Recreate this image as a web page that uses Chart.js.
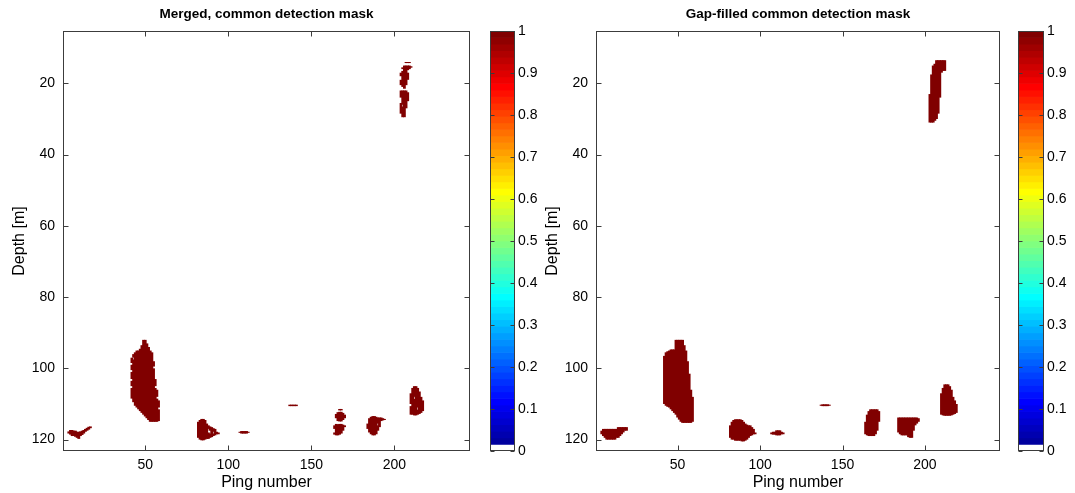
<!DOCTYPE html>
<html>
<head>
<meta charset="utf-8">
<script src="https://cdn.jsdelivr.net/npm/chart.js@4.4.1/dist/chart.umd.min.js"></script>
<style>
  html, body { margin: 0; padding: 0; background: #ffffff; }
  #figure { position: relative; width: 1075px; height: 493px; overflow: hidden; background: #ffffff; }
  #figure canvas { position: absolute; left: 0; top: 0; }
</style>
</head>
<body>
<div id="figure">
  <canvas id="maskMerged" width="1075" height="493"></canvas>
  <canvas id="cbarMerged" width="1075" height="493"></canvas>
  <canvas id="maskFilled" width="1075" height="493"></canvas>
  <canvas id="cbarFilled" width="1075" height="493"></canvas>
</div>
<script>
// ---- Axis ticks ----
const pingTicks = [50, 100, 150, 200];
const depthTicks = [20, 40, 60, 80, 100, 120];
const colorTicks = [0, 0.1, 0.2, 0.3, 0.4, 0.5, 0.6, 0.7, 0.8, 0.9, 1];
const pingRange = [0.5, 245.5];
const depthRange = [5.3, 123.2];

// ---- Merged, common detection mask: detected runs [ping, top depth, bottom depth] ----
const mergedShoalA = [
  [4, 117.7, 118.3], [5, 117.3, 118.6], [6, 117.3, 119], [7, 117.5, 119], [8, 117.5, 119.2],
  [9, 117.8, 119.5], [10, 117.8, 119.8], [11, 117.7, 119], [12, 117.5, 118.7], [13, 117.3, 118.3],
  [14, 117, 117.8], [15, 116.7, 117.5], [16, 116.4, 117.2], [17, 116.3, 116.8]
];
const mergedShoalB = [
  [42, 97, 98.5], [42, 99, 100.5], [42, 101, 103], [42, 103.5, 105], [42, 105.5, 108.5],
  [43, 96, 97], [43, 97.5, 109.5], [44, 95.5, 110.5], [45, 95, 111], [46, 95, 111.5],
  [47, 94.5, 112], [48, 93.5, 112.5], [49, 92, 113], [50, 92, 113.5], [51, 93, 114],
  [52, 94, 114.5], [53, 95, 115], [54, 95.5, 115], [55, 98, 99.5], [55, 100, 115],
  [56, 103, 105], [56, 105.5, 115], [57, 106, 108], [57, 108.5, 115], [58, 109, 111], [58, 111.5, 114.8]
];
const mergedShoalC = [
  [82, 115, 119.5], [83, 114.5, 120], [84, 114.2, 120.2], [85, 114.2, 120.2], [86, 114.5, 120],
  [87, 115.5, 119.8], [88, 116, 117], [88, 118, 119.8], [89, 116.3, 117.5], [89, 118.3, 119.5],
  [90, 116.5, 119.3], [91, 116.8, 117.8], [91, 118.3, 119], [92, 117, 118.8], [93, 117.8, 118.5], [94, 118, 118.5]
];
const mergedShoalD = [
  [107, 117.8, 118.1], [108, 117.6, 118.3], [109, 117.6, 118.3], [110, 117.6, 118.3], [111, 117.6, 118.3], [112, 117.8, 118.1]
];
const mergedShoalE = [
  [137, 110.2, 110.6], [138, 110.2, 110.6], [139, 110.2, 110.6], [140, 110.2, 110.6], [141, 110.2, 110.6]
];
const mergedShoalF = [
  [164, 116, 117], [164, 118, 118.6], [165, 112.8, 114], [165, 115.6, 118.8],
  [166, 112.3, 114.8], [166, 115.7, 118.8], [167, 111.4, 111.8], [167, 112.2, 114.9], [167, 115.6, 118.6],
  [168, 111.4, 111.8], [168, 112.2, 114.9], [168, 115.6, 118.3], [169, 112.5, 114.5], [169, 115.8, 117.5],
  [170, 113, 114], [170, 116, 116.5]
];
const mergedShoalG = [
  [184, 115.5, 117], [185, 114, 118], [186, 113.6, 118.5], [187, 113.4, 118.8], [188, 113.4, 118.8],
  [189, 113.6, 118.5], [190, 113.8, 115.5], [190, 116, 117.5], [191, 113.8, 116.5], [192, 113.8, 114.8],
  [193, 114, 114.6], [194, 114.2, 114.5]
];
const mergedShoalH = [
  [210, 107, 110], [210, 110.6, 113], [211, 105.5, 113], [212, 105, 108], [212, 108.6, 113.2],
  [213, 105, 113.2], [214, 105.5, 111], [214, 111.6, 113], [215, 106.5, 112.8], [216, 108, 112.5], [217, 109, 112]
];
const mergedShoalI = [
  [204, 17, 18], [204, 19, 20.5], [204, 22, 24], [204, 25.5, 28.5],
  [205, 15.5, 16], [205, 16.5, 21], [205, 22, 26], [205, 26.5, 29.5],
  [206, 15, 21.5], [206, 22, 29.5], [207, 14, 14.3], [207, 15, 20.5], [207, 22, 27],
  [208, 14, 14.3], [208, 15, 16.3], [208, 17, 19], [208, 22.5, 25], [209, 14, 14.3], [209, 15, 16], [210, 15.2, 15.6]
];

// ---- Gap-filled common detection mask ----
const filledShoalA = [
  [4, 117.5, 118.5], [5, 117, 119], [6, 117, 119.5], [7, 117, 120], [8, 117, 120], [9, 117, 120],
  [10, 117, 120], [11, 117, 120], [12, 117, 120], [13, 117, 119.5], [14, 116.5, 119.5],
  [15, 116.5, 119], [16, 116.5, 118.5], [17, 116.5, 118], [18, 116.5, 117.5], [19, 116.5, 117.5]
];
const filledShoalB = [
  [42, 96.5, 110], [43, 95.5, 110.5], [44, 95.2, 110.8], [45, 95, 111], [46, 94.7, 111.5],
  [47, 94.7, 112], [48, 94.7, 112.5], [49, 92, 113], [50, 92, 113.8], [51, 92, 114.4],
  [52, 92, 115], [53, 92, 115.3], [54, 93.5, 115.3], [55, 95, 115.3], [56, 98, 115.3],
  [57, 101.5, 115.3], [58, 106, 115.3], [59, 108, 115]
];
const filledShoalC = [
  [82, 116, 119.5], [83, 115, 120], [84, 114.5, 120], [85, 114.3, 120.3], [86, 114.3, 120.3],
  [87, 114.3, 120.3], [88, 114.3, 120.3], [89, 114.5, 120.5], [90, 115, 120.5], [91, 115.5, 120.3],
  [92, 115.8, 120], [93, 116, 119.5], [94, 116, 119], [95, 116.5, 118.8], [96, 117, 118.5], [97, 118, 118.5]
];
const filledShoalD = [
  [107, 118, 118.5], [108, 117.8, 118.6], [109, 117.8, 118.6], [110, 117.4, 118.8],
  [111, 117.4, 118.8], [112, 117.4, 118.8], [113, 117.8, 118.5], [114, 118, 118.5]
];
const filledShoalE = [
  [137, 110.2, 110.5], [138, 110.1, 110.6], [139, 110.1, 110.6], [140, 110.1, 110.6], [141, 110.1, 110.6], [142, 110.2, 110.5]
];
const filledShoalF = [
  [164, 115, 118.5], [165, 113, 118.8], [166, 112, 119], [167, 111.5, 119], [168, 111.5, 119],
  [169, 111.5, 119], [170, 111.5, 118.5], [171, 111.5, 117.5], [172, 112, 115]
];
const filledShoalG = [
  [184, 113.8, 118], [185, 113.8, 118.5], [186, 113.8, 118.8], [187, 113.8, 118.8], [188, 113.8, 118.8],
  [189, 113.8, 118.8], [190, 113.8, 119.3], [191, 113.8, 119.5], [192, 113.8, 119.5], [193, 113.8, 117.5],
  [194, 113.8, 116], [195, 113.8, 115.5], [196, 114, 115]
];
const filledShoalH = [
  [210, 107, 113], [211, 105.5, 113.2], [212, 104.5, 113.3], [213, 104.5, 113.3], [214, 104.5, 113.3],
  [215, 105, 113.3], [216, 106, 113.2], [217, 108, 113], [218, 109, 112.8], [219, 110, 112.5]
];
const filledShoalI = [
  [203, 23, 31], [204, 17.5, 31], [205, 15, 31], [206, 14.5, 30.5], [207, 13.5, 30],
  [208, 13.5, 28.5], [209, 13.5, 24], [210, 13.5, 17], [211, 13.5, 16.5], [212, 13.5, 16.5]
];

const mergedShoals = [mergedShoalA, mergedShoalB, mergedShoalC, mergedShoalD, mergedShoalE,
                      mergedShoalF, mergedShoalG, mergedShoalH, mergedShoalI];
const filledShoals = [filledShoalA, filledShoalB, filledShoalC, filledShoalD, filledShoalE,
                      filledShoalF, filledShoalG, filledShoalH, filledShoalI];

// ---- Styling ----
const FONT = '"Liberation Sans", Arial, Helvetica, sans-serif';
const MASK_COLOR = 'rgb(128,0,0)';
const AXIS_COLOR = '#3c3c3c';
const W = 1075, H = 493;

// jet(64) colour table with the lowest level shown as white
function jetLevel(k) {
  const c = v => Math.round(255 * Math.max(0, Math.min(1, v)));
  const r = c(Math.min((k - 24) / 16, (72 - k) / 16));
  const g = c(Math.min((k - 8) / 16, (56 - k) / 16));
  const b = c(Math.min((k + 8) / 16, (40 - k) / 16));
  return `rgb(${r},${g},${b})`;
}
const nLevels = 64;
const levelColors = [];
for (let k = 1; k <= nLevels; k++) levelColors.push(k === 1 ? '#ffffff' : jetLevel(k));

// box around the plot area with inward tick marks on every side
const framePlugin = {
  id: 'frame',
  afterDatasetsDraw(chart, args, opts) {
    const {ctx, chartArea: a} = chart;
    const L = Math.round(a.left) + 0.5, R = Math.round(a.right) - 0.5;
    const T = Math.round(a.top) + 0.5, B = Math.round(a.bottom) - 0.5;
    ctx.save();
    ctx.strokeStyle = AXIS_COLOR;
    ctx.lineWidth = 1;
    ctx.beginPath();
    if (opts.xTicks) {
      const xs = chart.scales.x;
      xs.ticks.forEach(t => {
        const px = Math.round(xs.getPixelForValue(t.value)) + 0.5;
        ctx.moveTo(px, B); ctx.lineTo(px, B - opts.len);
        ctx.moveTo(px, T); ctx.lineTo(px, T + opts.len);
      });
    }
    const ys = chart.scales.y;
    ys.ticks.forEach(t => {
      const py = Math.round(ys.getPixelForValue(t.value)) + 0.5;
      ctx.moveTo(L, py); ctx.lineTo(L + opts.len, py);
      ctx.moveTo(R, py); ctx.lineTo(R - opts.len, py);
    });
    ctx.stroke();
    ctx.strokeRect(L, T, R - L, B - T);
    ctx.restore();
  }
};

function tickList(values) {
  return scale => { scale.ticks = values.map(v => ({value: v})); };
}

function maskChart(id, titleText, shoals, box) {
  const points = [];
  shoals.forEach(shoal => shoal.forEach(run => points.push({x: run[0], y: [run[1], run[2]]})));
  return new Chart(document.getElementById(id), {
    type: 'bar',
    data: {
      datasets: [{
        data: points,
        backgroundColor: MASK_COLOR,
        borderWidth: 0,
        borderSkipped: false,
        inflateAmount: 0,
        grouped: false,
        // cells overlap their neighbours by more than a pixel so adjacent pings join without seams
        barPercentage: 1.7,
        categoryPercentage: 1
      }]
    },
    options: {
      responsive: false,
      animation: false,
      devicePixelRatio: 1,
      events: [],
      layout: { padding: { left: box.left - 63, right: W - box.right, top: 0, bottom: 0 } },
      plugins: {
        legend: { display: false },
        tooltip: { enabled: false },
        title: {
          display: true,
          text: titleText,
          fullSize: false,
          color: '#000',
          font: { family: FONT, size: 13.5, weight: 'bold', lineHeight: 1.2 },
          padding: { top: 6, bottom: box.top - 6 - 16.2 }
        },
        frame: { xTicks: true, len: 5 }
      },
      scales: {
        x: {
          type: 'linear',
          offset: false,
          min: pingRange[0],
          max: pingRange[1],
          afterBuildTicks: tickList(pingTicks),
          afterFit: s => { s.height = H - box.bottom; },
          grid: { display: false, drawTicks: false },
          border: { display: false },
          ticks: { color: '#000', padding: 6, maxRotation: 0, font: { family: FONT, size: 14 } },
          title: { display: true, text: 'Ping number', color: '#000', padding: { top: 0, bottom: 1 },
                   font: { family: FONT, size: 16, lineHeight: 1.2 } }
        },
        y: {
          type: 'linear',
          reverse: true,
          min: depthRange[0],
          max: depthRange[1],
          afterBuildTicks: tickList(depthTicks),
          afterFit: s => { s.width = 63; },
          grid: { display: false, drawTicks: false },
          border: { display: false },
          ticks: { color: '#000', padding: 8, font: { family: FONT, size: 14 } },
          title: { display: true, text: 'Depth [m]', color: '#000', padding: { top: 10, bottom: 0 },
                   font: { family: FONT, size: 16, lineHeight: 1.2 } }
        }
      }
    },
    plugins: [framePlugin]
  });
}

function colorbarChart(id, box) {
  const levels = levelColors.map((c, i) => ({x: 0, y: [i / nLevels, (i + 1) / nLevels]}));
  return new Chart(document.getElementById(id), {
    type: 'bar',
    data: {
      datasets: [{
        data: levels,
        backgroundColor: levelColors,
        borderWidth: 0,
        grouped: false,
        barPercentage: 1,
        categoryPercentage: 1
      }]
    },
    options: {
      responsive: false,
      animation: false,
      devicePixelRatio: 1,
      events: [],
      layout: { padding: { left: box.left, right: W - box.right - 40, top: box.top, bottom: H - box.bottom } },
      plugins: {
        legend: { display: false },
        tooltip: { enabled: false },
        title: { display: false },
        frame: { xTicks: false, len: 4 }
      },
      scales: {
        x: {
          type: 'linear', offset: false, min: -0.5, max: 0.5, display: false,
          afterBuildTicks: tickList([-0.5, 0.5])
        },
        y: {
          type: 'linear',
          position: 'right',
          min: 0,
          max: 1,
          afterBuildTicks: tickList(colorTicks),
          afterFit: s => { s.width = 40; },
          grid: { display: false, drawTicks: false },
          border: { display: false },
          ticks: { color: '#000', padding: 3, font: { family: FONT, size: 14 },
                   callback: v => String(v) }
        }
      }
    },
    plugins: [framePlugin]
  });
}

maskChart('maskMerged', 'Merged, common detection mask', mergedShoals, { left: 63, right: 470, top: 31, bottom: 451 });
colorbarChart('cbarMerged', { left: 490, right: 515, top: 31, bottom: 451 });
maskChart('maskFilled', 'Gap-filled common detection mask', filledShoals, { left: 596, right: 1000, top: 31, bottom: 451 });
colorbarChart('cbarFilled', { left: 1018, right: 1044, top: 31, bottom: 451 });
</script>
</body>
</html>
